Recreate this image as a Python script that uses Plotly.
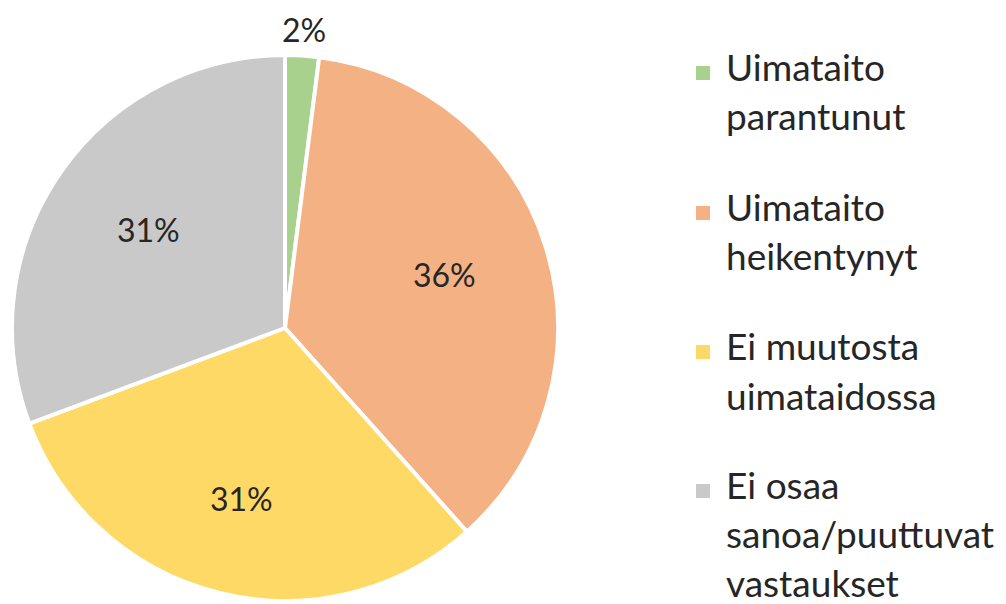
import math
import plotly.graph_objects as go

labels = ["Uimataito parantunut", "Uimataito heikentynyt", "Ei muutosta uimataidossa", "Ei osaa sanoa/puuttuvat vastaukset"]
legend_lines = [["Uimataito", "parantunut"], ["Uimataito", "heikentynyt"], ["Ei muutosta", "uimataidossa"], ["Ei osaa", "sanoa/puuttuvat", "vastaukset"]]
values = [2.0, 36.4, 30.9, 30.7]
colors = ["#A9D18E", "#F4B183", "#FFD966", "#C9C9C9"]
label_radius = [1.094, 0.61, 0.66, 0.61]  # fraction of pie radius where % labels sit
label_dy = [0, -4, -4, -4]  # visual centring of label glyphs (px)

FONT = "Lato, 'Open Sans', sans-serif"
W, H = 1006, 604
OFF = 8  # page body margin: figure is drawn 8px right/down in the window
CX, CY, R = 285 - OFF, 328 - OFF, 273  # pie centre / radius in figure pixels

fig = go.Figure()
fig.add_trace(go.Pie(
    labels=labels,
    values=values,
    sort=False,
    direction="clockwise",
    rotation=0,
    marker=dict(colors=colors, line=dict(color="white", width=4)),
    textinfo="none",
    domain=dict(x=[(CX - R) / W, (CX + R) / W], y=[(H - CY - R) / H, (H - CY + R) / H]),
    showlegend=False,
    hoverinfo="label+percent",
))

annotations = []
total = sum(values)
cum = 0.0
for v, rf, dy in zip(values, label_radius, label_dy):
    mid = (cum + v / 2) / total * 2 * math.pi
    cum += v
    px = CX + rf * R * math.sin(mid)
    py = CY - rf * R * math.cos(mid) + dy
    annotations.append(dict(text=f"{round(v / total * 100)}%", xref="paper", yref="paper",
                            x=px / W, y=1 - py / H, xanchor="center", yanchor="middle",
                            showarrow=False,
                            font=dict(family=FONT, size=32, color="#262626")))

shapes = []
baselines = [[83, 132], [223, 272], [362, 412], [501, 550, 599]]
FS = 37
for i, lines in enumerate(legend_lines):
    b0 = baselines[i][0] - OFF
    shapes.append(dict(type="rect", xref="paper", yref="paper",
                       x0=(696 - OFF) / W, x1=(710 - OFF) / W,
                       y0=1 - (b0 - 3) / H, y1=1 - (b0 - 17) / H,
                       fillcolor=colors[i], line=dict(width=0)))
    for j, t in enumerate(lines):
        annotations.append(dict(text=t, xref="paper", yref="paper",
                                x=(727 - OFF - 3) / W, y=1 - (baselines[i][j] - OFF - 0.44 * FS) / H,
                                xanchor="left", yanchor="middle", showarrow=False,
                                font=dict(family=FONT, size=FS, color="#262626")))

fig.update_layout(
    width=W, height=H,
    margin=dict(l=0, r=0, t=0, b=0),
    paper_bgcolor="white", plot_bgcolor="white",
    shapes=shapes, annotations=annotations,
)
fig.write_html("out.html")
